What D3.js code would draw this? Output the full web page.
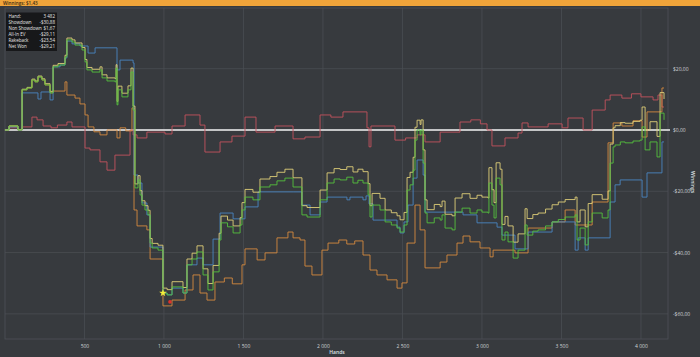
<!DOCTYPE html>
<html>
<head>
<meta charset="utf-8">
<script src="https://cdn.jsdelivr.net/npm/d3@7"></script>
<style>
  html, body { margin: 0; padding: 0; background: #373a3e; }
  svg { display: block; }
  text { font-family: "Open Sans", "Noto Sans", sans-serif; }
</style>
</head>
<body>
<svg id="chart" width="700" height="357"></svg>
<script>
// ---------- data ----------
const title = "Winnings: $1,43";
const xTickValues = [500, 1000, 1500, 2000, 2500, 3000, 3500, 4000];
const xTickLabels = ["500", "1 000", "1 500", "2 000", "2 500", "3 000", "3 500", "4 000"];
const yTickValues = [20, 0, -20, -40, -60];
const yTickLabels = ["$20,00", "$0,00", "-$20,00", "-$40,00", "-$60,00"];
const xTitle = "Hands";
const yTitle = "Winnings";

const legendLabels = ["Hand:", "Showdown", "Non Showdown", "All-In EV", "Rakeback", "Net Won"];
const legendValues = ["3 482", "-$30,88", "$1,67", "-$29,11", "-$23,54", "-$29,21"];

// [hand, dollars]
const netWon = [[0,0],[26,1.3],[82,0],[108,13.1],[139,13.7],[170,16.3],[189,15.7],[208,17.3],[233,16.3],[252,14.7],[284,12.1],[303,20.6],[334,21.2],[378,23.8],[390,29.4],[422,28.7],[441,27.7],[485,26.1],[504,22.2],[516,19.6],[548,18.9],[598,19.6],[611,17.0],[642,16.0],[692,15.7],[699,20.2],[705,8.2],[711,13.1],[736,10.8],[774,13.1],[793,18.9],[806,6.5],[818,-18.9],[837,-16.3],[850,-21.2],[862,-24.5],[881,-26.1],[900,-27.7],[913,-36.9],[926,-38.5],[963,-39.2],[994,-53.2],[1020,-53.8],[1051,-51.2],[1120,-53.2],[1145,-44.0],[1177,-42.1],[1208,-39.8],[1246,-47.3],[1277,-52.2],[1309,-46.3],[1347,-35.9],[1359,-30.3],[1400,-31.6],[1435,-33.6],[1479,-31.0],[1491,-26.1],[1510,-21.9],[1560,-22.8],[1604,-18.6],[1667,-17.9],[1711,-16.6],[1761,-15.7],[1812,-18.6],[1868,-27.7],[1900,-28.4],[1982,-22.8],[2026,-17.3],[2070,-16.0],[2108,-16.3],[2150,-15.4],[2189,-17.3],[2220,-16.4],[2252,-17.3],[2284,-21.2],[2296,-28.4],[2309,-24.5],[2359,-26.1],[2391,-30.0],[2430,-31.0],[2466,-32.0],[2485,-33.3],[2510,-31.0],[2529,-19.6],[2548,-17.9],[2567,-13.1],[2579,-3.3],[2592,0],[2611,-1.6],[2617,0],[2630,-10.8],[2642,-27.1],[2655,-30.3],[2700,-28.7],[2737,-29.4],[2749,-27.7],[2768,-32.0],[2812,-32.6],[2831,-26.8],[2875,-25.5],[2925,-27.1],[2969,-26.1],[3000,-26.8],[3038,-27.1],[3044,-17.3],[3063,-24.5],[3076,-28.7],[3089,-15.7],[3114,-17.9],[3126,-35.9],[3145,-33.3],[3164,-36.5],[3196,-41.8],[3227,-39.2],[3271,-31.0],[3284,-34.3],[3320,-33.0],[3353,-32.6],[3400,-31.3],[3441,-30.0],[3480,-29.2],[3523,-28.4],[3586,-27.7],[3598,-35.9],[3617,-32.0],[3649,-37.5],[3668,-30.0],[3693,-27.1],[3756,-28.7],[3793,-26.1],[3806,-10.8],[3825,-5.5],[3837,-4.9],[3870,-3.9],[3900,-4.2],[3950,-3.6],[3994,-3.3],[4007,1.0],[4026,-6.5],[4057,-3.9],[4101,-8.8],[4120,5.5],[4145,3.3]];

const rakeback = [[0,0],[26,1.3],[82,0.1],[108,13.3],[139,13.9],[170,16.6],[189,16.0],[208,17.6],[233,16.7],[252,15.1],[284,12.6],[303,21.1],[334,21.7],[378,24.4],[390,30.0],[422,29.4],[441,28.4],[485,26.9],[504,23.0],[516,20.4],[548,19.8],[598,20.6],[611,18.0],[642,17.0],[692,16.8],[699,21.3],[705,9.3],[711,14.3],[736,12.0],[774,14.4],[793,20.2],[806,7.8],[818,-17.6],[837,-14.9],[850,-19.8],[862,-23.1],[881,-24.7],[900,-26.2],[913,-35.4],[926,-37.0],[963,-37.6],[994,-51.6],[1020,-52.1],[1051,-49.5],[1120,-51.4],[1145,-42.1],[1177,-40.2],[1208,-37.8],[1246,-45.3],[1277,-50.1],[1309,-44.2],[1347,-33.7],[1359,-28.1],[1400,-29.4],[1435,-31.3],[1479,-28.6],[1491,-23.7],[1510,-19.4],[1560,-20.3],[1604,-16.0],[1667,-15.2],[1711,-13.8],[1761,-12.8],[1812,-15.6],[1868,-24.7],[1900,-25.3],[1982,-19.6],[2026,-14.0],[2070,-12.6],[2108,-12.9],[2150,-12.0],[2189,-13.7],[2220,-12.8],[2252,-13.6],[2284,-17.5],[2296,-24.7],[2309,-20.7],[2359,-22.3],[2391,-26.1],[2430,-27.0],[2466,-28.0],[2485,-29.3],[2510,-26.9],[2529,-15.5],[2548,-13.8],[2567,-8.9],[2579,0.9],[2592,3.2],[2611,1.8],[2617,3.3],[2630,-6.5],[2642,-22.8],[2655,-26.0],[2700,-24.3],[2737,-25.0],[2749,-23.2],[2768,-27.5],[2812,-28.0],[2831,-22.2],[2875,-20.8],[2925,-22.3],[2969,-21.3],[3000,-21.9],[3038,-22.2],[3044,-12.3],[3063,-19.5],[3076,-23.7],[3089,-10.7],[3114,-12.8],[3126,-30.8],[3145,-28.2],[3164,-31.3],[3196,-36.6],[3227,-33.9],[3271,-25.7],[3284,-28.9],[3320,-27.6],[3353,-27.1],[3400,-25.8],[3441,-24.4],[3480,-23.5],[3523,-22.7],[3586,-21.9],[3598,-30.0],[3617,-26.1],[3649,-31.6],[3668,-24.0],[3693,-21.1],[3756,-22.6],[3793,-19.9],[3806,-4.6],[3825,0.7],[3837,1.4],[3870,2.4],[3900,2.2],[3950,2.8],[3994,3.2],[4007,7.5],[4026,0.0],[4057,2.7],[4101,-2.1],[4120,12.2],[4145,10.1]];

const showdown = [[0,0],[26,1.0],[82,0],[108,12.1],[208,10.1],[227,12.4],[284,9.8],[303,20.6],[347,21.2],[378,23.5],[390,29.0],[422,28.1],[472,27.4],[523,25.1],[567,26.8],[705,19.6],[724,22.8],[806,21.9],[812,-14.7],[837,-17.3],[862,-23.8],[893,-27.7],[913,-38.2],[994,-53.2],[1020,-53.8],[1051,-51.6],[1120,-53.2],[1145,-44.0],[1208,-41.8],[1246,-44.0],[1309,-35.6],[1353,-27.1],[1435,-29.0],[1510,-25.1],[1592,-20.2],[1812,-20.2],[1868,-24.5],[1919,-27.7],[1982,-23.5],[2026,-21.9],[2151,-22.8],[2170,-21.9],[2252,-22.8],[2271,-21.5],[2290,-24.1],[2315,-29.4],[2466,-31.7],[2485,-33.6],[2510,-30.0],[2535,-24.5],[2567,-15.7],[2592,-9.8],[2630,-14.7],[2642,-26.8],[2881,-27.7],[2969,-30.3],[3095,-31.7],[3126,-34.3],[3208,-38.8],[3290,-33.3],[3441,-30.0],[3586,-39.2],[3605,-35.2],[3649,-39.2],[3668,-35.2],[3806,-23.5],[3837,-17.9],[3869,-16.3],[4007,-21.9],[4038,-14.0],[4132,-3.9],[4145,-3.9]];

const allInEV = [[0,0],[26,1.3],[82,0],[108,13.1],[139,13.7],[170,16.3],[189,15.7],[208,17.3],[233,16.3],[252,14.7],[284,12.1],[303,12.7],[378,15.7],[390,11.4],[441,10.4],[472,8.5],[504,4.9],[523,1.0],[560,-0.6],[598,-1.6],[642,0],[705,-2.6],[724,0.7],[760,-0.3],[799,7.2],[812,-26.1],[831,-31.3],[893,-32.6],[913,-42.1],[994,-57.4],[1051,-55.5],[1133,-52.2],[1183,-47.3],[1227,-53.2],[1271,-55.5],[1321,-49.6],[1380,-48.3],[1430,-50.2],[1491,-44.0],[1510,-38.8],[1586,-42.4],[1636,-40.1],[1711,-35.2],[1780,-33.3],[1812,-35.2],[1856,-35.9],[1887,-44.4],[1931,-47.3],[1994,-39.2],[2032,-36.9],[2100,-35.9],[2150,-37.2],[2200,-36.2],[2252,-40.8],[2296,-45.7],[2340,-47.3],[2403,-48.9],[2466,-51.6],[2497,-49.9],[2529,-36.9],[2579,-24.5],[2611,-32.6],[2642,-45.0],[2737,-43.1],[2780,-40.8],[2843,-36.9],[2881,-34.6],[2925,-36.5],[2988,-38.5],[3051,-41.4],[3070,-39.2],[3208,-40.1],[3290,-32.0],[3441,-30.0],[3523,-26.1],[3586,-31.0],[3693,-23.5],[3793,-4.2],[3825,2.3],[3880,1.3],[3950,3.0],[4007,-2.3],[4038,5.9],[4132,13.7],[4145,13.7]];

const nonShowdown = [[0,0],[26,0.7],[82,0],[108,1.0],[170,4.2],[202,3.3],[240,1.3],[290,0.7],[330,1.6],[390,2.6],[422,1.0],[504,-5.9],[535,-6.5],[598,-10.4],[642,-13.1],[692,-8.2],[787,0],[806,-1.6],[831,-2.6],[893,-0.7],[1007,-1.3],[1051,1.3],[1133,4.9],[1227,1.6],[1258,-7.2],[1353,-3.9],[1428,-2.0],[1510,4.2],[1579,-0.7],[1699,1.3],[1812,-2.9],[1887,-2.3],[1982,4.9],[2050,4.2],[2126,5.9],[2277,0.7],[2290,-5.5],[2302,1.3],[2453,-3.3],[2520,-2.6],[2592,-1.6],[2642,-3.9],[2737,-0.7],[2862,2.6],[2930,3.3],[2990,2.0],[3032,0],[3063,-5.2],[3145,-2.6],[3227,-1.0],[3252,2.3],[3290,1.0],[3416,2.0],[3504,0.7],[3541,3.9],[3636,0],[3693,6.5],[3775,9.8],[3806,11.4],[3880,10.4],[3940,11.8],[4000,10.8],[4076,9.8],[4107,11.4],[4132,7.5],[4145,7.5]];

const starMarker = [994, -53.2];
const dotMarker = [1038, -56.1];

// ---------- drawing ----------
const W = 700, H = 357;
const svg = d3.select("#chart");
const plot = { left: 5, right: 668, top: 8, bottom: 339 };

const x = d3.scaleLinear().domain([0, 4170]).range([4.9, 668]);
const y = d3.scaleLinear().domain([-68.2, 39.8]).range([339, 8]);

svg.append("rect").attr("width", W).attr("height", H).attr("fill", "#373a3e");

// grid
const gridColor = "#4a4e53";
svg.append("g").selectAll("line").data(xTickValues).join("line")
  .attr("x1", d => x(d)).attr("x2", d => x(d))
  .attr("y1", plot.top).attr("y2", plot.bottom)
  .attr("stroke", gridColor).attr("stroke-width", 0.8);
svg.append("g").selectAll("line").data(yTickValues).join("line")
  .attr("x1", plot.left).attr("x2", plot.right)
  .attr("y1", d => y(d)).attr("y2", d => y(d))
  .attr("stroke", gridColor).attr("stroke-width", 0.8);
svg.append("rect")
  .attr("x", plot.left).attr("y", plot.top)
  .attr("width", plot.right - plot.left).attr("height", plot.bottom - plot.top)
  .attr("fill", "none").attr("stroke", "#4e5257").attr("stroke-width", 0.8);

// zero line
svg.append("line")
  .attr("x1", plot.left).attr("x2", plot.right + 2)
  .attr("y1", y(0)).attr("y2", y(0))
  .attr("stroke", "#f2f2f2").attr("stroke-width", 1.5);

// series
const line = d3.line().x(d => x(d[0])).y(d => y(d[1])).curve(d3.curveStepAfter);
const series = [
  { data: nonShowdown, color: "#c4525d" },
  { data: allInEV, color: "#d68a3e" },
  { data: showdown, color: "#4a86c2" },
  { data: rakeback, color: "#e0cf78" },
  { data: netWon, color: "#55c13d" }
];
svg.append("g").selectAll("path").data(series).join("path")
  .attr("d", d => line(d.data))
  .attr("fill", "none")
  .attr("stroke", d => d.color)
  .attr("stroke-width", 0.9);

// markers
svg.append("path")
  .attr("d", d3.symbol(d3.symbolStar).size(18)())
  .attr("transform", `translate(${x(starMarker[0])},${y(starMarker[1])})`)
  .attr("fill", "#f5ee3a");
svg.append("circle")
  .attr("cx", x(dotMarker[0])).attr("cy", y(dotMarker[1])).attr("r", 1.8)
  .attr("fill", "#e0302a");

// axes
const xAxis = d3.axisBottom(x).tickValues(xTickValues)
  .tickFormat((d, i) => xTickLabels[i]).tickSize(0).tickPadding(0);
const gx = svg.append("g").attr("transform", `translate(0, 344)`).call(xAxis);
gx.select(".domain").remove();
gx.selectAll("text").attr("fill", "#cfd2d6").attr("font-size", 5)
  .attr("dy", "0.35em").attr("y", 2);

const yAxis = d3.axisRight(y).tickValues(yTickValues)
  .tickFormat((d, i) => yTickLabels[i]).tickSize(0).tickPadding(0);
const gy = svg.append("g").attr("transform", `translate(673, 0)`).call(yAxis);
gy.select(".domain").remove();
gy.selectAll("text").attr("fill", "#cfd2d6").attr("font-size", 5);

svg.append("text").attr("x", 337).attr("y", 354)
  .attr("text-anchor", "middle").attr("font-size", 5).attr("font-weight", 600)
  .attr("fill", "#dfe2e6").text(xTitle);
svg.append("text")
  .attr("transform", "translate(691,182) rotate(90)")
  .attr("text-anchor", "middle").attr("font-size", 5).attr("font-weight", 600)
  .attr("fill", "#dfe2e6").text(yTitle);

// top bar
svg.append("rect").attr("x", 0).attr("y", 0).attr("width", W).attr("height", 6)
  .attr("fill", "#f0a43a");
svg.append("text").attr("x", 3).attr("y", 4.6)
  .attr("font-size", 4.6).attr("font-weight", 600).attr("fill", "#3a2a10").text(title);

// legend box
const lg = svg.append("g");
lg.append("rect").attr("x", 6).attr("y", 12.5).attr("width", 51).attr("height", 38.5)
  .attr("fill", "#141516").attr("fill-opacity", 0.9);
lg.selectAll("text.l").data(legendLabels).join("text").attr("class", "l")
  .attr("x", 8.5).attr("y", (d, i) => 17.8 + i * 6.1)
  .attr("font-size", 4.5).attr("fill", "#e6e6e6").text(d => d);
lg.selectAll("text.v").data(legendValues).join("text").attr("class", "v")
  .attr("x", 55).attr("y", (d, i) => 17.8 + i * 6.1)
  .attr("text-anchor", "end")
  .attr("font-size", 4.5).attr("fill", "#e6e6e6").text(d => d);
</script>
</body>
</html>
